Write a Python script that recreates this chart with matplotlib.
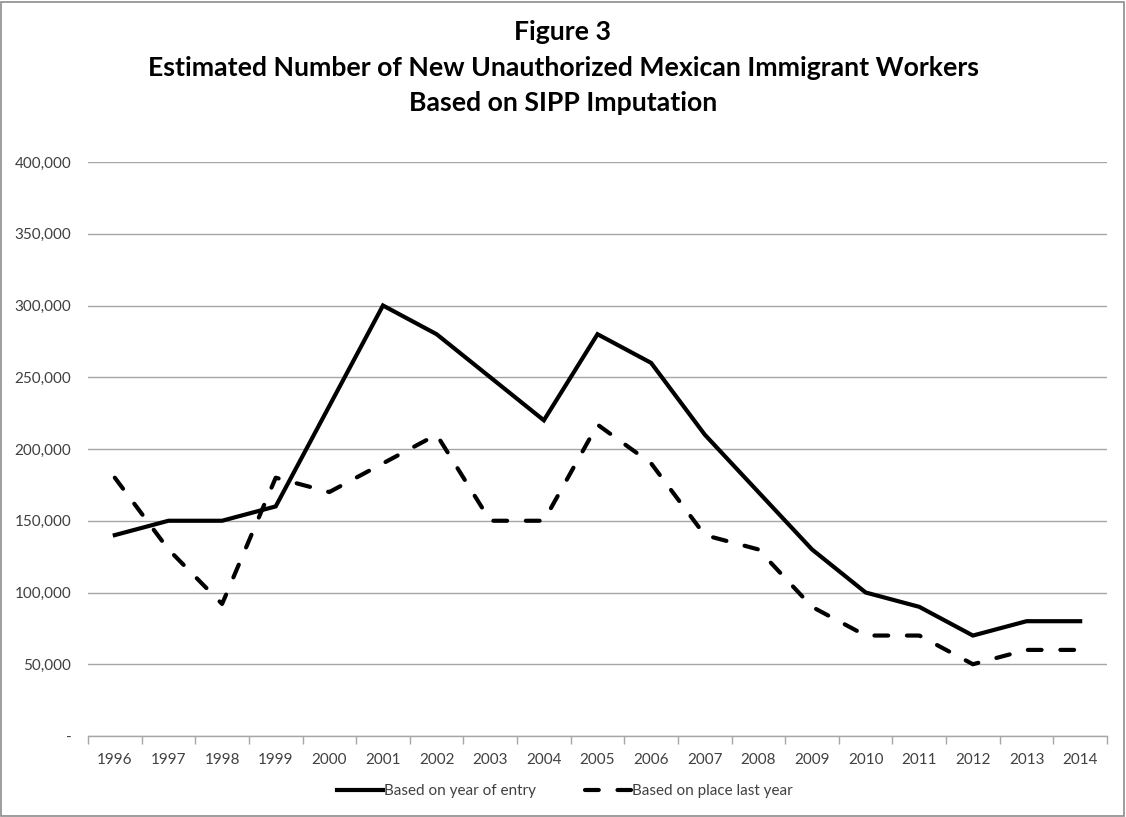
import matplotlib
matplotlib.use("Agg")
import matplotlib.pyplot as plt
from matplotlib.patches import Rectangle
from matplotlib.ticker import FuncFormatter, FixedLocator

years = [str(y) for y in range(1996, 2015)]
year_of_entry = [140000, 150000, 150000, 160000, 230000, 300000, 280000, 250000, 220000,
                 280000, 260000, 210000, 170000, 130000, 100000, 90000, 70000, 80000, 80000]
place_last_year = [180000, 130000, 92000, 180000, 170000, 190000, 210000, 150000, 150000,
                   217000, 190000, 140000, 130000, 90000, 70000, 70000, 50000, 60000, 60000]

title_lines = ["Figure 3",
               "Estimated Number of New Unauthorized Mexican Immigrant Workers",
               "Based on SIPP Imputation"]

plt.rcParams['font.family'] = ['Lato', 'DejaVu Sans']

fig = plt.figure(figsize=(11.26, 8.17), dpi=100)
ax = fig.add_axes([88 / 1126, 1 - 736 / 817, (1107 - 88) / 1126, (736 - 162) / 817])

x = list(range(len(years)))
ax.plot(x, year_of_entry, color='black', lw=3.0, solid_joinstyle='miter',
        label='Based on year of entry')
ax.plot(x, place_last_year, color='black', lw=3.0, linestyle=(0, (3.3, 4.5)),
        dash_capstyle='round', label='Based on place last year')

ax.set_xlim(-0.5, len(years) - 0.5)
ax.set_ylim(0, 400000)
ax.set_yticks(range(0, 400001, 50000))
ax.yaxis.set_major_formatter(FuncFormatter(lambda v, p: '-' if v == 0 else f'{int(v):,}'))
ax.grid(axis='y', color='#a6a6a6', lw=1.0)
ax.set_axisbelow(True)

ax.set_xticks(x)
ax.set_xticklabels(years)
ax.xaxis.set_minor_locator(FixedLocator([i - 0.5 for i in range(len(years) + 1)]))
ax.tick_params(axis='x', which='major', length=0, pad=12, labelsize=11, labelcolor='#404040')
ax.tick_params(axis='x', which='minor', length=6, color='#a6a6a6', width=1)
ax.tick_params(axis='y', length=0, pad=12, labelsize=11, labelcolor='#404040')

for s in ('top', 'right', 'left'):
    ax.spines[s].set_visible(False)
ax.spines['bottom'].set_color('#a6a6a6')
ax.spines['bottom'].set_linewidth(1.0)

leg = fig.legend(loc='center', bbox_to_anchor=(565 / 1126, 1 - 791 / 817), ncol=2,
                 frameon=False, fontsize=11, handlelength=3.0, handletextpad=0.1,
                 columnspacing=3.2)
for t in leg.get_texts():
    t.set_color('#404040')

ys = [32, 68, 103]
for line, yy in zip(title_lines, ys):
    fig.text(0.5, 1 - yy / 817, line, ha='center', va='center', fontsize=19.2,
             fontweight='bold', color='black')

fig.patches.append(Rectangle((1 / 1126, 1 / 817), 1 - 3 / 1126, 1 - 3 / 817,
                             transform=fig.transFigure, fill=False,
                             edgecolor='#8c8c8c', lw=1.2))

fig.savefig('out.png', dpi=100)
